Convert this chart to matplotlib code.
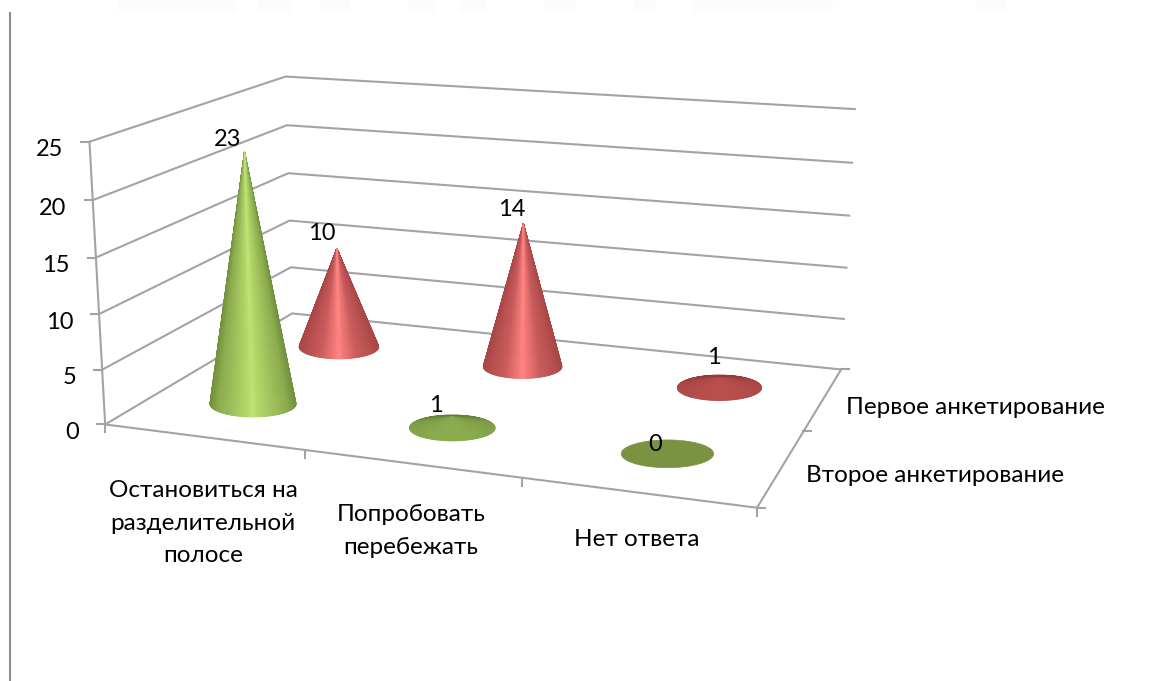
import numpy as np
import matplotlib
matplotlib.use('Agg')
from matplotlib import pyplot as plt
from matplotlib.collections import PolyCollection
from matplotlib.colors import LinearSegmentedColormap

plt.rcParams['font.family'] = ['Lato', 'Open Sans', 'DejaVu Sans']

# data
categories = ['Остановиться на\nразделительной\nполосе', 'Попробовать\nперебежать', 'Нет ответа']
series_names = ['Второе анкетирование', 'Первое анкетирование']
second_survey = [23, 1, 0]
first_survey = [10, 14, 1]
z_ticks = [0, 5, 10, 15, 20, 25]

LINE = '#a3a3a3'
TEXT = '#000000'
FS = 17.5
FS_NUM = 17

# camera fit: (category, series, value) -> picture pixel
ref_3d = [(0, 0, 0), (0, 0, 5), (0, 0, 10), (0, 0, 15), (0, 0, 20), (0, 0, 25),
          (0, 2, 0), (0, 2, 5), (0, 2, 10), (0, 2, 15), (0, 2, 20), (0, 2, 25),
          (3, 2, 0), (3, 2, 5), (3, 2, 10), (3, 2, 15), (3, 2, 20), (3, 2, 25),
          (1, 0, 0), (2, 0, 0), (3, 0, 0), (3, 1, 0)]
ref_px = [(105, 424), (102, 369), (99, 313.5), (96, 257), (93, 200), (90, 142),
          (293, 314), (291, 267), (289, 221), (288, 173), (287, 126), (285, 76),
          (841, 368), (844, 319), (847, 268), (849, 216), (852, 163), (855, 109),
          (305, 451), (522, 480), (757, 507), (803, 431)]
rows, rhs = [], []
for (a, b, c), (px, py) in zip(ref_3d, ref_px):
    rows.append([a, b, c, 1, 0, 0, 0, 0, -px * a, -px * b, -px * c])
    rows.append([0, 0, 0, 0, a, b, c, 1, -py * a, -py * b, -py * c])
    rhs += [px, py]
cam = np.linalg.lstsq(np.array(rows, float), np.array(rhs, float), rcond=None)[0]
cam = np.append(cam, 1.0).reshape(3, 4)


def project(u, v, z=0):
    u, v, z = np.broadcast_arrays(u, v, z)
    h = cam @ np.vstack([u.ravel(), v.ravel(), z.ravel(), np.ones(u.size)])
    return h[0] / h[2], h[1] / h[2]


def cone(ax, u, v, value, cmap, flat_cmap, flat_color):
    # the first column comes out a little narrow with the fitted camera
    ru = 0.222 if u < 1 else 0.205
    ang = np.linspace(0, 2 * np.pi, 181)
    # base is drawn as a level ellipse on screen, sized by the local perspective
    ex, ey = project([u - ru, u + ru], v, 0)
    half = np.hypot(ex[1] - ex[0], ey[1] - ey[0]) / 2
    cx, cy = project(u, v, 0)
    bx = cx[0] + half * np.cos(ang)
    by = cy[0] + 0.3 * half * np.sin(ang)
    if value == 0:
        ax.fill(bx, by, color=flat_color, lw=0.5, zorder=4)
        return
    ax_, ay_ = project(u, v, value)
    mid = (ang[:-1] + ang[1:]) / 2
    polys, cols = [], []
    # back of the cone first, the front covers it
    for i in np.argsort(np.sin(mid)):
        polys.append([(ax_[0], ay_[0]), (bx[i], by[i]), (bx[i + 1], by[i + 1])])
        if value > 2:
            cols.append(cmap(np.abs(np.cos(mid[i]))))
        else:
            cols.append(flat_cmap(0.5 + 0.5 * np.sin(mid[i])))
    ax.add_collection(PolyCollection(polys, facecolors=cols, edgecolors=cols, linewidths=0.7, zorder=4))


green = LinearSegmentedColormap.from_list('g', [(0, '#bfe274'), (0.12, '#b4d76a'), (0.45, '#9fc25c'),
                                                (0.8, '#8cac4e'), (1, '#74903f')])
red = LinearSegmentedColormap.from_list('r', [(0, '#ff8484'), (0.12, '#f07676'), (0.45, '#c95c5c'),
                                              (0.8, '#b85050'), (1, '#a84646')])
green_flat = LinearSegmentedColormap.from_list('gf', [(0, '#62793a'), (0.35, '#7d9c46'), (1, '#8aab4e')])
red_flat = LinearSegmentedColormap.from_list('rf', [(0, '#8e3a3a'), (0.35, '#ab4646'), (1, '#b84e4e')])

fig = plt.figure(figsize=(11.55, 6.81), dpi=100)
ax = fig.add_axes([0, 0, 1, 1])
ax.set_xlim(0, 1155)
ax.set_ylim(681, 0)
ax.axis('off')

# faint strip along the top edge of the scan
for x0, x1 in [(118, 236), (258, 291), (320, 350), (409, 435), (460, 486), (545, 575),
               (634, 656), (693, 833), (976, 1006)]:
    ax.fill_between([x0, x1], 0, 12, color='#fcfcfc', lw=0)
ax.plot([9.5, 9.5], [13, 681], color='#8c8c8c', lw=1.5)

# walls
xs, ys = project(0, 0, [0, 25])
ax.plot(xs, ys, color=LINE, lw=1.5, zorder=1)
for z in z_ticks:
    xs, ys = project([0, 0, 3], [0, 2, 2], z)
    ax.plot(xs, ys, color=LINE, lw=1.5, zorder=1)
    tx, ty = project(0, 0, z)
    ax.plot([tx[0] - 8, tx[0]], [ty[0], ty[0]], color=LINE, lw=1.5, zorder=1)
    ax.text(tx[0] - 26, ty[0] + 8, str(z), ha='right', va='center', fontsize=FS_NUM, color=TEXT)

# floor and ticks
xs, ys = project([0, 3, 3], [0, 0, 2], 0)
ax.plot(xs, ys, color=LINE, lw=1.5, zorder=1)
for i in range(len(categories) + 1):
    tx, ty = project(i, 0, 0)
    ax.plot([tx[0], tx[0]], [ty[0], ty[0] + 8], color=LINE, lw=1.5, zorder=1)
for i in range(len(series_names) + 1):
    tx, ty = project(3, i, 0)
    ax.plot([tx[0], tx[0] + 8], [ty[0], ty[0]], color=LINE, lw=1.5, zorder=1)

# back row first
for i, val in enumerate(first_survey):
    cone(ax, i + 0.5, 1.5, val, red, red_flat, '#b04848')
for i, val in enumerate(second_survey):
    cone(ax, i + 0.5, 0.5, val, green, green_flat, '#7a9242')

label_off_second = [(-17, -13), (-16, -11), (-12, -9)]
label_off_first = [(-15, -15), (-12, -14), (-6, -20)]
for v, vals, offs in [(0.5, second_survey, label_off_second), (1.5, first_survey, label_off_first)]:
    for i, val in enumerate(vals):
        tx, ty = project(i + 0.5, v, val)
        ax.text(tx[0] + offs[i][0], ty[0] + offs[i][1], str(val), ha='center', va='center',
                fontsize=FS_NUM, color=TEXT, zorder=6)

cat_pos = [(203, 523), (411, 531), (637, 540)]
for name, (x, y) in zip(categories, cat_pos):
    ax.text(x, y, name, ha='center', va='center', fontsize=FS, color=TEXT, linespacing=1.7)
ax.text(806, 475, series_names[0], ha='left', va='center', fontsize=FS, color=TEXT)
ax.text(846, 407, series_names[1], ha='left', va='center', fontsize=FS, color=TEXT)

plt.savefig('out.png', dpi=100)
